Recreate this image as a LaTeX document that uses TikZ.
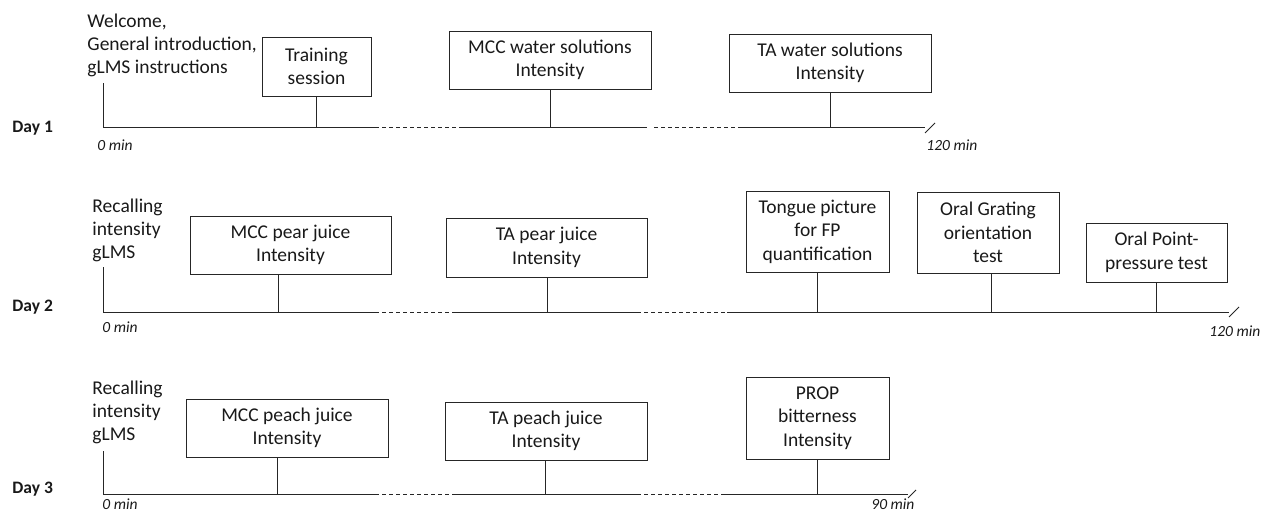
\documentclass[tikz,border=0pt]{standalone}
\usepackage{fontspec}
\setmainfont{Carlito}

\tikzset{
	evbox/.style={draw, align=center, inner sep=0pt, font=\fontsize{19.5}{23.5}\selectfont},
	note/.style={align=left, anchor=west, inner sep=0pt, font=\fontsize{19.5}{23}\selectfont},
	daylbl/.style={anchor=west, inner sep=0pt, font=\fontsize{17.5}{20}\selectfont\bfseries},
	tlbl/.style={anchor=west, inner sep=0pt, font=\fontsize{15.5}{18}\selectfont\itshape},
	gap/.style={dash pattern=on 4pt off 3pt},
}

\begin{document}
\begin{tikzpicture}[x=1pt, y=-1pt, line width=0.9pt, color=black!85, text=black!90]
	\useasboundingbox (0,0) rectangle (1268,512);

	% Day 1
	\node[daylbl] (day1) at (12,128) {Day 1};
	\node[note] (intro) at (87,45) {Welcome,\\General introduction,\\gLMS instructions};
	\node[evbox, minimum width=109pt, minimum height=59pt] (train) at (316.5,66.5) {Training\\session};
	\node[evbox, minimum width=202pt, minimum height=58pt] (mccw) at (550,60) {MCC water solutions\\Intensity};
	\node[evbox, minimum width=202pt, minimum height=58pt] (taw) at (830,63) {TA water solutions\\Intensity};
	\coordinate (d1s) at (103,127);
	\coordinate (d1e) at (925,127);
	\coordinate (t1a) at (316,127);
	\coordinate (t1b) at (550,127);
	\coordinate (t1c) at (830,127);
	\draw (d1s) -- ++(0,-44);
	\draw (d1s) -- (375,127);
	\draw[gap] (375,127) -- (462,127);
	\draw (462,127) -- (647,127);
	\draw[gap] (654,127) -- (740,127);
	\draw (740,127) -- (d1e);
	\draw (d1e) ++(0,6) -- ++(10,-10);
	\draw (t1a) -- (t1a |- train.south);
	\draw (t1b) -- (t1b |- mccw.south);
	\draw (t1c) -- (t1c |- taw.south);
	\node[tlbl] (d1zero) at (97,145) {0 min};
	\node[tlbl] (d1end) at (926,145) {120 min};

	% Day 2
	\node[daylbl] (day2) at (12,307) {Day 2};
	\node[note] (recall2) at (92,230) {Recalling\\intensity\\gLMS};
	\node[evbox, minimum width=201pt, minimum height=58pt] (mccp) at (290.5,245) {MCC pear juice\\Intensity};
	\node[evbox, minimum width=201pt, minimum height=59pt] (tap) at (546.5,247.5) {TA pear juice\\Intensity};
	\node[evbox, minimum width=143pt, minimum height=81pt] (tongue) at (817.5,231.5) {Tongue picture\\for FP\\quantification};
	\node[evbox, minimum width=142pt, minimum height=81pt] (grating) at (988,232.5) {Oral Grating\\orientation\\test};
	\node[evbox, minimum width=141pt, minimum height=59pt] (point) at (1156.5,252.5) {Oral Point-\\pressure test};
	\coordinate (d2s) at (103,312);
	\coordinate (d2e) at (1229,312);
	\coordinate (t2a) at (278,312);
	\coordinate (t2b) at (547,312);
	\coordinate (t2c) at (817,312);
	\coordinate (t2d) at (991,312);
	\coordinate (t2e) at (1156,312);
	\draw (d2s) -- ++(0,-45);
	\draw (d2s) -- (375,312);
	\draw[gap] (375,312) -- (456,312);
	\draw (456,312) -- (637,312);
	\draw[gap] (637,312) -- (727,312);
	\draw (727,312) -- (d2e);
	\draw (d2e) ++(0,5) -- ++(10,-10);
	\draw (t2a) -- (t2a |- mccp.south);
	\draw (t2b) -- (t2b |- tap.south);
	\draw (t2c) -- (t2c |- tongue.south);
	\draw (t2d) -- (t2d |- grating.south);
	\draw (t2e) -- (t2e |- point.south);
	\node[tlbl] (d2zero) at (102,327) {0 min};
	\node[tlbl] (d2end) at (1209,331) {120 min};

	% Day 3
	\node[daylbl] (day3) at (12,489) {Day 3};
	\node[note] (recall3) at (92,412) {Recalling\\intensity\\gLMS};
	\node[evbox, minimum width=202pt, minimum height=58pt] (mccpe) at (287,428) {MCC peach juice\\Intensity};
	\node[evbox, minimum width=202pt, minimum height=58pt] (tape) at (546,431) {TA peach juice\\Intensity};
	\node[evbox, minimum width=143pt, minimum height=82pt] (prop) at (817.5,418) {PROP\\bitterness\\Intensity};
	\coordinate (d3s) at (103,494);
	\coordinate (d3e) at (908,494);
	\coordinate (t3a) at (277,494);
	\coordinate (t3b) at (545,494);
	\coordinate (t3c) at (817,494);
	\draw (d3s) -- ++(0,-43);
	\draw (d3s) -- (375,494);
	\draw[gap] (375,494) -- (456,494);
	\draw (456,494) -- (637,494);
	\draw[gap] (637,494) -- (725,494);
	\draw (725,494) -- (d3e);
	\draw (d3e) ++(0,4) -- ++(8,-8);
	\draw (t3a) -- (t3a |- mccpe.south);
	\draw (t3b) -- (t3b |- tape.south);
	\draw (t3c) -- (t3c |- prop.south);
	\node[tlbl] (d3zero) at (102,504) {0 min};
	\node[tlbl] (d3end) at (871,504) {90 min};
\end{tikzpicture}
\end{document}
